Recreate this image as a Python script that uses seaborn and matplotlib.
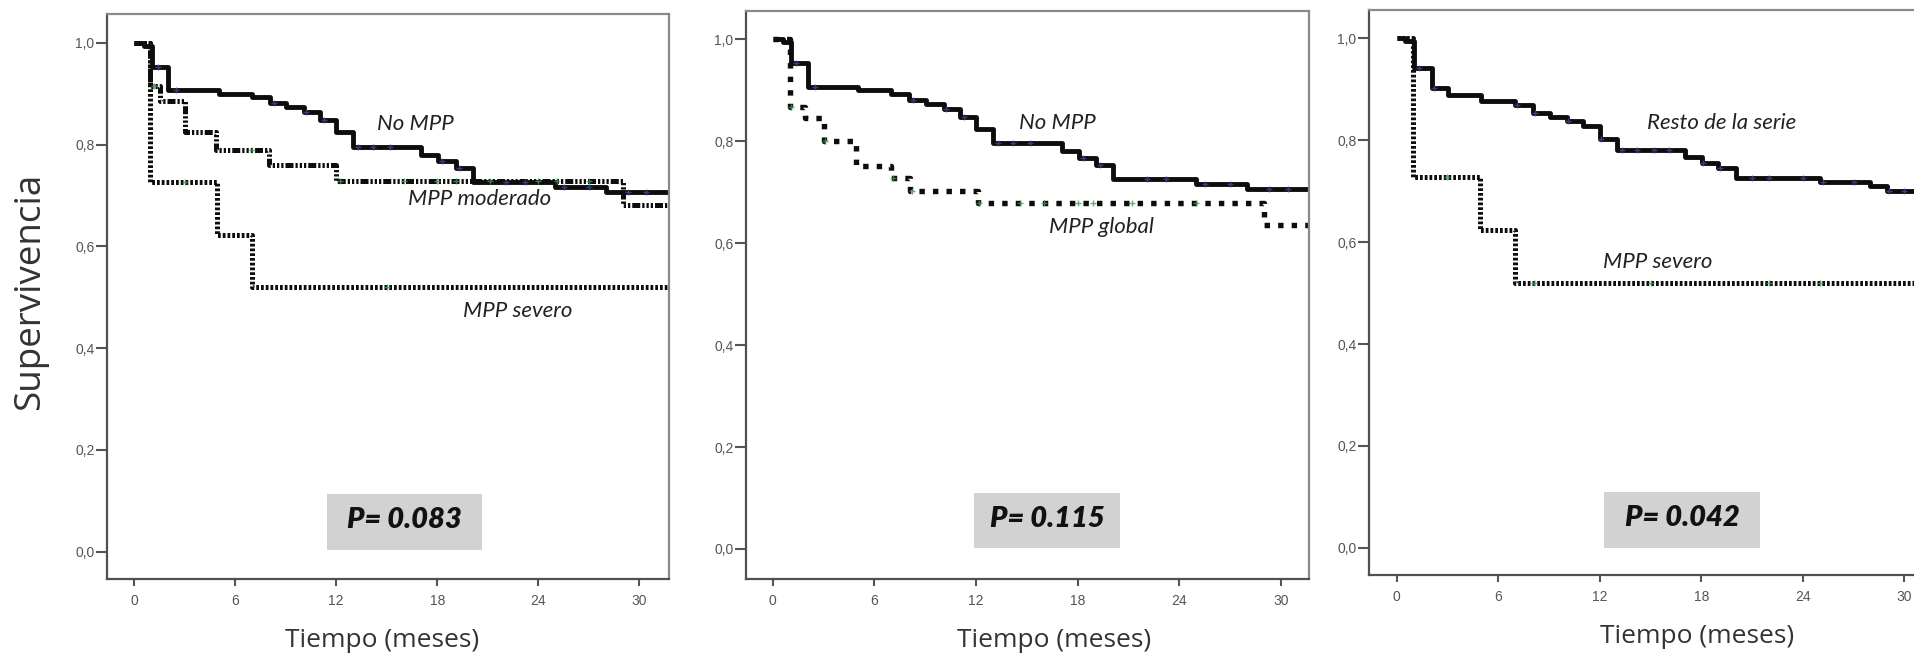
import numpy as np
import pandas as pd
import matplotlib
matplotlib.use('Agg')
import matplotlib.pyplot as plt
from matplotlib.patches import Rectangle
import seaborn as sns

sns.set_style('white')

# Kaplan-Meier steps: (months, survival)
no_mpp_t = [0, 0.6, 1.05, 2.05, 5.05, 7.0, 8.05, 9.05, 10.1, 11.05, 12.0, 13.0, 17.05, 18.05, 19.1, 20.1, 25.0, 28.0, 31.8]
no_mpp_s = [1.0, 0.994, 0.953, 0.907, 0.900, 0.893, 0.881, 0.873, 0.864, 0.848, 0.824, 0.796, 0.780, 0.768, 0.754, 0.726, 0.717, 0.707, 0.707]

moderado_t = [0, 0.95, 1.55, 3.0, 4.85, 8.0, 12.0, 29.0, 31.8]
moderado_s = [1.0, 0.915, 0.886, 0.824, 0.790, 0.759, 0.728, 0.682, 0.682]

severo_t = [0, 0.95, 4.9, 7.0, 31.8]
severo_s = [1.0, 0.727, 0.623, 0.519, 0.519]

global_t = [0, 1.0, 1.9, 3.0, 4.9, 7.0, 8.1, 12.1, 29.0, 31.8]
global_s = [1.0, 0.867, 0.845, 0.800, 0.752, 0.727, 0.703, 0.678, 0.635, 0.635]

resto_t = [0, 0.5, 1.04, 2.1, 3.05, 5.0, 7.0, 8.07, 9.06, 10.05, 11.03, 12.0, 13.0, 17.04, 18.03, 19.0, 20.03, 25.0, 27.97, 28.96, 31.8]
resto_s = [1.0, 0.995, 0.941, 0.902, 0.889, 0.876, 0.869, 0.853, 0.846, 0.838, 0.827, 0.802, 0.780, 0.766, 0.755, 0.745, 0.725, 0.718, 0.709, 0.701, 0.701]

# censored cases (months)
no_mpp_cens = [1.4, 2.5, 8.3, 10.2, 11.3, 13.3, 14.2, 15.2, 18.3, 19.3, 22.1, 23.2, 25.5, 27.0, 29.3, 30.4]
moderado_cens = [1.2, 7.0, 12.2, 16.0, 18.0, 19.1, 21.1, 24.0, 25.1, 27.0]
severo_cens = [3.0, 15.0]
global_cens = [1.1, 3.1, 7.1, 8.2, 12.2, 14.6, 16.0, 18.0, 18.9, 21.2, 25.0]
resto_cens = [1.3, 2.2, 7.1, 8.2, 10.1, 12.1, 13.3, 14.2, 15.2, 16.1, 18.1, 19.1, 21.0, 22.0, 24.0, 25.2, 27.0, 29.1, 30.0]
severo3_cens = [3.0, 8.1, 15.0, 22.0, 25.0]

x_ticks = [0, 6, 12, 18, 24, 30]
y_ticks = [0.0, 0.2, 0.4, 0.6, 0.8, 1.0]
y_labels = ['0,0', '0,2', '0,4', '0,6', '0,8', '1,0']
p_values = ['P= 0.083', 'P= 0.115', 'P= 0.042']

SOLID = 'solid'
DOTTED = (0, (0.55, 0.4))
DASHDOTDOT = (0, (1.6, 0.4, 0.45, 0.4, 0.45, 0.4, 0.45, 0.4))
SQUARES = (0, (1.0, 1.5))


def step_value(t, s, x):
    i = np.searchsorted(t, x, side='right') - 1
    return np.array(s)[i]


def km(ax, t, s, ls, lw, cens, ccol):
    df = pd.DataFrame({'t': t, 's': s})
    sns.lineplot(data=df, x='t', y='s', ax=ax, drawstyle='steps-post', color='#0d0d0d',
                 linewidth=lw, linestyle=ls, estimator=None, sort=False,
                 solid_capstyle='butt', dash_capstyle='butt')
    cy = step_value(t, s, np.array(cens))
    sns.scatterplot(x=cens, y=cy, ax=ax, marker='+', s=18, color=ccol, linewidth=1.0,
                    alpha=0.8, zorder=5)


fig = plt.figure(figsize=(19.15, 6.57), dpi=100)
ax1 = fig.add_axes([0.05587, 0.11872, 0.29347, 0.85997])
ax2 = fig.add_axes([0.38956, 0.11872, 0.29399, 0.86454])
ax3 = fig.add_axes([0.71488, 0.12481, 0.29400, 0.85997])

blue = '#3a4fa0'
green = '#3d9b4f'

km(ax1, severo_t, severo_s, DOTTED, 3.6, severo_cens, green)
km(ax1, moderado_t, moderado_s, DASHDOTDOT, 3.6, moderado_cens, green)
km(ax1, no_mpp_t, no_mpp_s, SOLID, 3.5, no_mpp_cens, blue)

km(ax2, global_t, global_s, SQUARES, 3.9, global_cens, green)
km(ax2, no_mpp_t, no_mpp_s, SOLID, 3.5, no_mpp_cens, blue)

km(ax3, severo_t, severo_s, DOTTED, 3.6, severo3_cens, green)
km(ax3, resto_t, resto_s, SOLID, 3.5, resto_cens, blue)

ax1.set_xlim(-1.6, 31.75)
ax1.set_ylim(-0.054, 1.0565)
ax2.set_xlim(-1.58, 31.65)
ax2.set_ylim(-0.059, 1.0555)
ax3.set_xlim(-1.64, 31.64)
ax3.set_ylim(-0.053, 1.055)

lab = dict(fontsize=16, fontstyle='italic', family='Lato', color='#222222', ha='center', va='center')
ax1.text(16.7, 0.840, 'No MPP', **lab)
ax1.text(20.5, 0.692, 'MPP moderado', **lab)
ax1.text(22.8, 0.472, 'MPP severo', **lab)
ax2.text(16.8, 0.835, 'No MPP', **lab)
ax2.text(19.4, 0.631, 'MPP global', **lab)
ax3.text(19.2, 0.834, 'Resto de la serie', **lab)
ax3.text(15.4, 0.561, 'MPP severo', **lab)

boxes = [(ax1, 11.45, 20.65, 0.003, 0.1136), (ax2, 11.86, 20.5, 0.002, 0.110), (ax3, 12.25, 21.5, 0.0, 0.110)]
for (ax, x0, x1, y0, y1), pv in zip(boxes, p_values):
    ax.add_patch(Rectangle((x0, y0), x1 - x0, y1 - y0, facecolor='#d2d2d2', edgecolor='none', zorder=1))
    ax.text((x0 + x1) / 2, (y0 + y1) / 2 + 0.003, pv, fontsize=21, fontweight='heavy', fontstyle='italic',
            family='Lato', color='#111111', ha='center', va='center', zorder=2)

xlab_pos = [0.489, 0.547, 0.583]
for ax, xp in zip([ax1, ax2, ax3], xlab_pos):
    ax.set_xticks(x_ticks)
    ax.set_xticklabels([str(v) for v in x_ticks])
    ax.set_yticks(y_ticks)
    ax.set_yticklabels(y_labels)
    ax.tick_params(axis='x', direction='out', length=5, width=1.5, color='#555555', pad=6,
                   labelsize=10, labelcolor='#555555', bottom=True)
    ax.tick_params(axis='y', direction='out', length=8, width=1.5, color='#555555', pad=1,
                   labelsize=10, labelcolor='#555555', left=True)
    for lbl in ax.get_xticklabels() + ax.get_yticklabels():
        lbl.set_family('Liberation Sans')
    ax.set_ylabel('')
    ax.set_xlabel('Tiempo (meses)', fontsize=19, family='Open Sans', color='#333333')
    ax.xaxis.set_label_coords(xp, -0.108)
    ax.xaxis.label.set_va('center')
    for side in ['left', 'bottom']:
        ax.spines[side].set_color('#505050')
        ax.spines[side].set_linewidth(1.6)
    for side in ['top', 'right']:
        ax.spines[side].set_color('#8a8a8a')
        ax.spines[side].set_linewidth(1.6)

fig.text(30 / 1915, 1 - 291 / 657, 'Supervivencia', rotation=90, fontsize=26.5, family='Open Sans',
         color='#333333', ha='center', va='center')

fig.savefig('out.png', dpi=100)
